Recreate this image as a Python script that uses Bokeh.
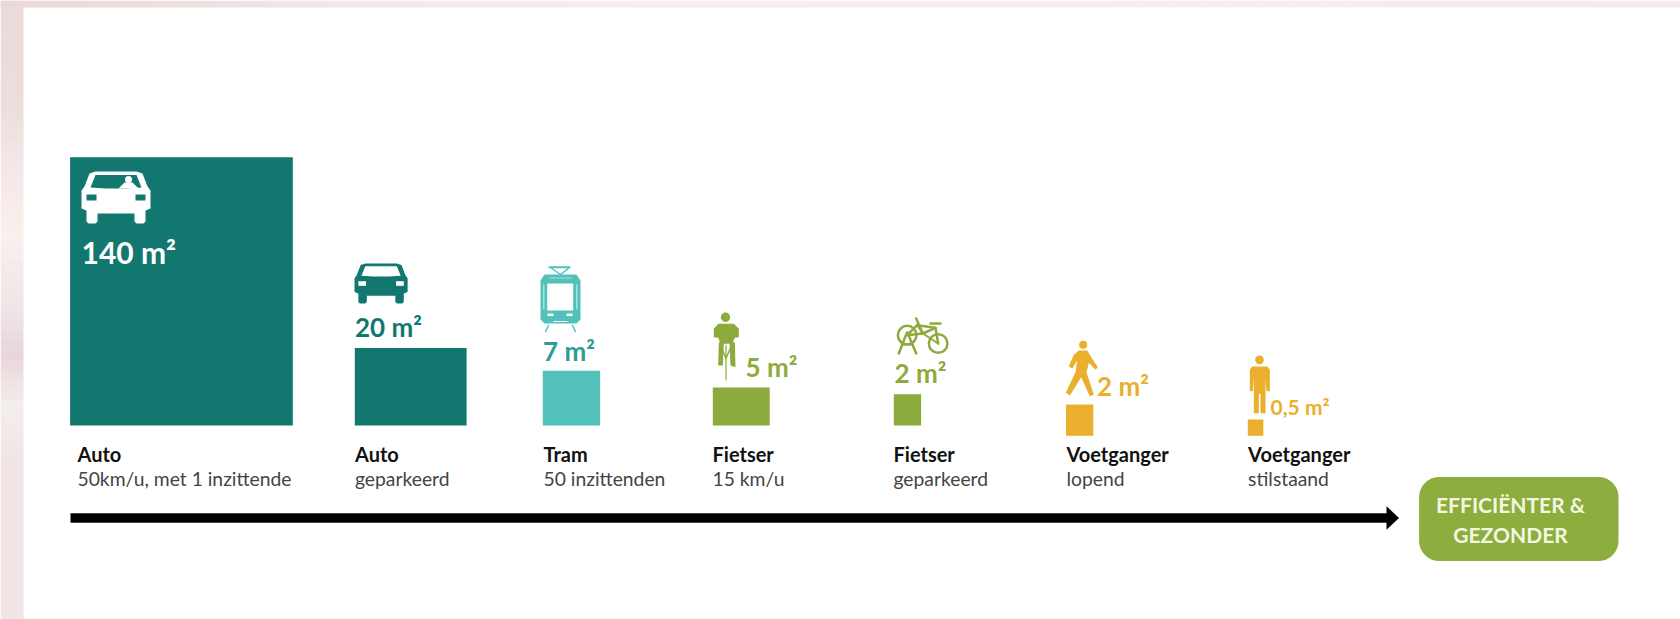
import numpy as np
from bokeh.core.properties import value
from bokeh.embed import file_html
from bokeh.models import ColumnDataSource, Range1d
from bokeh.plotting import figure
from bokeh.resources import INLINE

# ---- data ----
modes = ["Auto", "Auto", "Tram", "Fietser", "Fietser", "Voetganger", "Voetganger"]
details = ["50km/u, met 1 inzittende", "geparkeerd", "50 inzittenden", "15 km/u",
           "geparkeerd", "lopend", "stilstaand"]
area_labels = ["140 m²", "20 m²", "7 m²", "5 m²", "2 m²", "2 m²", "0,5 m²"]
width_m = [10.76, 5.40, 2.77, 2.75, 1.32, 1.32, 0.75]
depth_m = [12.96, 3.75, 2.64, 1.84, 1.51, 1.51, 0.79]
badge_lines = ["EFFICIËNTER &", "GEZONDER"]

# ---- layout and style ----
PX_PER_M = 20.7
bar_left = [69.6, 354.3, 542.3, 712.3, 893.3, 1065.5, 1247.3]
bar_base = [425, 425, 425, 425, 425, 435.3, 435.3]
bar_col = ["#12776F", "#12776F", "#52C1BA", "#8CAB3C", "#8CAB3C", "#E9AF2D", "#E9AF2D"]
lab_col = ["#FFFFFF", "#12776F", "#2A9D94", "#8CAB3C", "#8CAB3C", "#E9AF2D", "#E9AF2D"]
lab_x = [81, 354.5, 542.5, 745, 894, 1096.5, 1270]
lab_y = [263, 336.7, 360.7, 377.3, 383.3, 396, 414.7]
lab_sz = [30, 26, 26, 26, 26, 26, 21]
name_x = [77, 354.5, 543, 712, 893, 1066, 1247.6]
FONT = "Lato"
BASE_SHIFT = 0.40  # em; moves the glyph's alphabetic text up onto its baseline

p = figure(width=1680, height=619, x_range=Range1d(0, 1680), y_range=Range1d(619, 0),
           output_backend="svg", toolbar_location=None, min_border=0,
           background_fill_color="#FFFFFF", border_fill_color="#FFFFFF",
           outline_line_color=None, x_axis_type=None, y_axis_type=None)
p.grid.visible = False


def hexes(rgb):
    return ["#%02X%02X%02X" % tuple(int(round(v)) for v in c) for c in rgb]


def blur(stops_at, stops_rgb, edges):
    mids = (edges[:-1] + edges[1:]) / 2
    return hexes(np.column_stack([np.interp(mids, stops_at, [c[i] for c in stops_rgb]) for i in range(3)]))


# blurred edge of the photograph behind the panel; bands overlap so no seams show
strip_at = [0, 95, 120, 170, 235, 305, 354, 405, 460, 619]
strip_rgb = [(235, 218, 218), (236, 220, 220), (239, 224, 224), (246, 231, 232), (248, 241, 238),
             (239, 230, 231), (233, 214, 218), (243, 238, 236), (241, 229, 229), (241, 229, 229)]
ey = np.append(np.arange(0, 610, 10), 619)
p.quad(left=0, right=23, top=ey[:-1], bottom=np.minimum(ey[1:] + 1, 619),
       fill_color=blur(strip_at, strip_rgb, ey), line_color=None)
band_at = [0, 160, 300, 650, 1270, 1680]
band_rgb = [(235, 217, 217), (238, 222, 222), (243, 230, 230), (247, 238, 238), (248, 236, 238), (248, 234, 236)]
ex = np.arange(0, 1710, 30)
p.quad(left=ex[:-1], right=np.minimum(ex[1:] + 1, 1680), top=0, bottom=7,
       fill_color=blur(band_at, band_rgb, ex), line_color=None)

# bars
bars = ColumnDataSource(dict(
    left=bar_left,
    right=[l + w * PX_PER_M for l, w in zip(bar_left, width_m)],
    top=[b - d * PX_PER_M for b, d in zip(bar_base, depth_m)],
    bottom=bar_base, color=bar_col))
p.quad(left="left", right="right", top="top", bottom="bottom", fill_color="color",
       line_color=None, source=bars)


def shape(pts, ox, oy, color, s=1.0):
    a = np.array(pts, dtype=float)
    p.patch(ox + a[:, 0] * s, oy + a[:, 1] * s, fill_color=color, line_color=None)


def box(x0, y0, x1, y1, ox, oy, color, s=1.0):
    shape([(x0, y0), (x1, y0), (x1, y1), (x0, y1)], ox, oy, color, s)


def dot(x, y, r, ox, oy, color, s=1.0):
    p.circle([ox + x * s], [oy + y * s], radius=r * s, fill_color=color, line_color=None)


def stroke(pts, ox, oy, color, w, s=1.0):
    a = np.array(pts, dtype=float)
    p.line(ox + a[:, 0] * s, oy + a[:, 1] * s, line_color=color, line_width=w, line_cap="round")


CAR = [(8, 2), (14, 0), (55, 0), (61, 2), (66, 15), (69, 19), (69, 37), (64, 39), (64, 50),
       (62, 52), (55, 52), (53, 50), (53, 42), (16, 42), (16, 50), (14, 52), (7, 52), (5, 50),
       (5, 39), (0, 37), (0, 19), (3, 15)]
WIN = [(9, 16), (14, 3.5), (55, 3.5), (60, 16), (45, 17), (24, 17)]


def car(ox, oy, s, body, glass):
    shape(CAR, ox, oy, body, s)
    shape(WIN, ox, oy, glass, s)
    box(5, 23, 15, 29, ox, oy, glass, s)
    box(54, 23, 64, 29, ox, oy, glass, s)


# moving car, with its driver
car(81, 171, 1.0, "#FFFFFF", "#12776F")
dot(47, 8, 3.5, 81, 171, "#FFFFFF")
shape([(43, 11), (51, 11), (57, 17), (37, 17)], 81, 171, "#FFFFFF")
# parked car
car(354, 263, 0.77, "#12776F", "#FFFFFF")

# tram
T = "#52C1BA"
stroke([(549, 266.7), (569, 266.7)], 0, 0, T, 2)
stroke([(550, 267), (560, 274), (569, 267)], 0, 0, T, 1.5)
shape([(544, 274), (576, 274), (580, 280), (580, 319), (576, 323), (544, 323), (540, 319), (540, 280)],
      0, 0, T)
box(546.7, 283, 572.7, 310, 0, 0, "#FFFFFF")
box(542.5, 284, 544, 309, 0, 0, "#A8E0DC")
box(575.5, 284, 577, 309, 0, 0, "#A8E0DC")
box(547, 313, 553, 315.5, 0, 0, "#FFFFFF")
box(566, 313, 572, 315.5, 0, 0, "#FFFFFF")
box(553, 320.5, 567, 321.5, 0, 0, "#FFFFFF")
box(549, 277, 571, 278, 0, 0, "#A8E0DC")
stroke([(548, 325), (545, 331)], 0, 0, T, 1.5)
stroke([(572, 325), (575, 331)], 0, 0, T, 1.5)

# cyclist
G = "#8CAB3C"
stroke([(725.5, 345), (725.5, 379)], 0, 0, "#B9CE83", 2)
dot(20, 11.7, 4.7, 705, 305, G)
shape([(38, 55), (85, 55), (100, 70), (100, 95), (88, 97), (80, 115), (45, 115), (38, 97), (25, 95),
       (25, 70)], 705, 305, G, 1 / 3)
shape([(40, 110), (55, 110), (52, 180), (38, 180)], 705, 305, G, 1 / 3)
shape([(72, 110), (88, 110), (90, 185), (75, 180)], 705, 305, G, 1 / 3)
stroke([(720, 345), (725.5, 358), (731, 345)], 0, 0, G, 1.5)

# parked bike in its rack
for cx, cy in [(65, 80), (158, 105)]:
    p.circle([885 + cx / 3], [308 + cy / 3], radius=9.3, fill_color=None, line_color=G, line_width=2.5)
b = 1 / 3
stroke([(92, 30), (112, 75), (150, 58), (158, 105)], 885, 308, G, 2.5, b)
stroke([(112, 75), (65, 80), (95, 50), (150, 58)], 885, 308, G, 2.5, b)
stroke([(95, 50), (112, 75), (158, 105)], 885, 308, G, 2, b)
stroke([(135, 45), (165, 45)], 885, 308, G, 2.5, b)
stroke([(40, 135), (65, 70), (92, 135)], 885, 308, G, 2.5, b)
stroke([(52, 108), (80, 108)], 885, 308, G, 2, b)

# walking person
O = "#E9AF2D"
dot(68, 28, 12, 1060, 335, O, 1 / 3)
shape([(55, 45), (80, 45), (95, 70), (112, 95), (105, 103), (85, 82), (78, 110), (100, 178), (88, 182),
       (62, 125), (28, 180), (16, 172), (45, 110), (50, 75), (35, 100), (25, 92), (40, 58)],
      1060, 335, O, 1 / 3)

# standing person
dot(57, 28, 13, 1240, 350, O, 1 / 3)
shape([(35, 48), (80, 48), (88, 58), (88, 122), (78, 122), (75, 80), (75, 188), (60, 188), (60, 130),
       (55, 130), (55, 188), (40, 188), (40, 80), (37, 122), (28, 122), (28, 58)],
      1240, 350, O, 1 / 3)

# area labels
for t, x, y, sz, c in zip(area_labels, lab_x, lab_y, lab_sz, lab_col):
    p.text([x], [y - BASE_SHIFT * sz], text=[t], text_font=value(FONT), text_font_style="bold",
           text_font_size=value(f"{sz}px"), text_color=c, text_baseline="alphabetic")

# names below the bars
p.text(name_x, [461.7 - BASE_SHIFT * 20] * 7, text=modes, text_font=value(FONT), text_font_style="bold",
       text_font_size=value("20px"), text_color="#111111", text_baseline="alphabetic")
p.text(name_x, [485.4 - BASE_SHIFT * 19.3] * 7, text=details, text_font=value(FONT),
       text_font_size=value("19.3px"), text_color="#444444", text_baseline="alphabetic")

# arrow
p.quad(left=[70], right=[1388], top=[512.7], bottom=[522.3], fill_color="#000000", line_color=None)
shape([(1386, 505.7), (1398.5, 517.5), (1386, 529.3)], 0, 0, "#000000")

# badge
x0, x1, y0, y1, r = 1418.6, 1618, 476.5, 560.5, 20
t = np.linspace(0, np.pi / 2, 12)
bx = np.concatenate([x1 - r + r * np.sin(t), x1 - r + r * np.cos(t), x0 + r - r * np.sin(t), x0 + r - r * np.cos(t)])
by = np.concatenate([y0 + r - r * np.cos(t), y1 - r + r * np.sin(t), y1 - r + r * np.cos(t), y0 + r - r * np.sin(t)])
p.patch(bx, by, fill_color="#8DAD3E", line_color=None)
p.text([1510, 1510], [512.2 - BASE_SHIFT * 21, 542.7 - BASE_SHIFT * 21], text=badge_lines,
       text_font=value(FONT), text_font_style="bold", text_font_size=value("21px"),
       text_color="#F3F7E0", text_align="center", text_baseline="alphabetic")

open("out.html", "w").write(file_html(p, INLINE))
